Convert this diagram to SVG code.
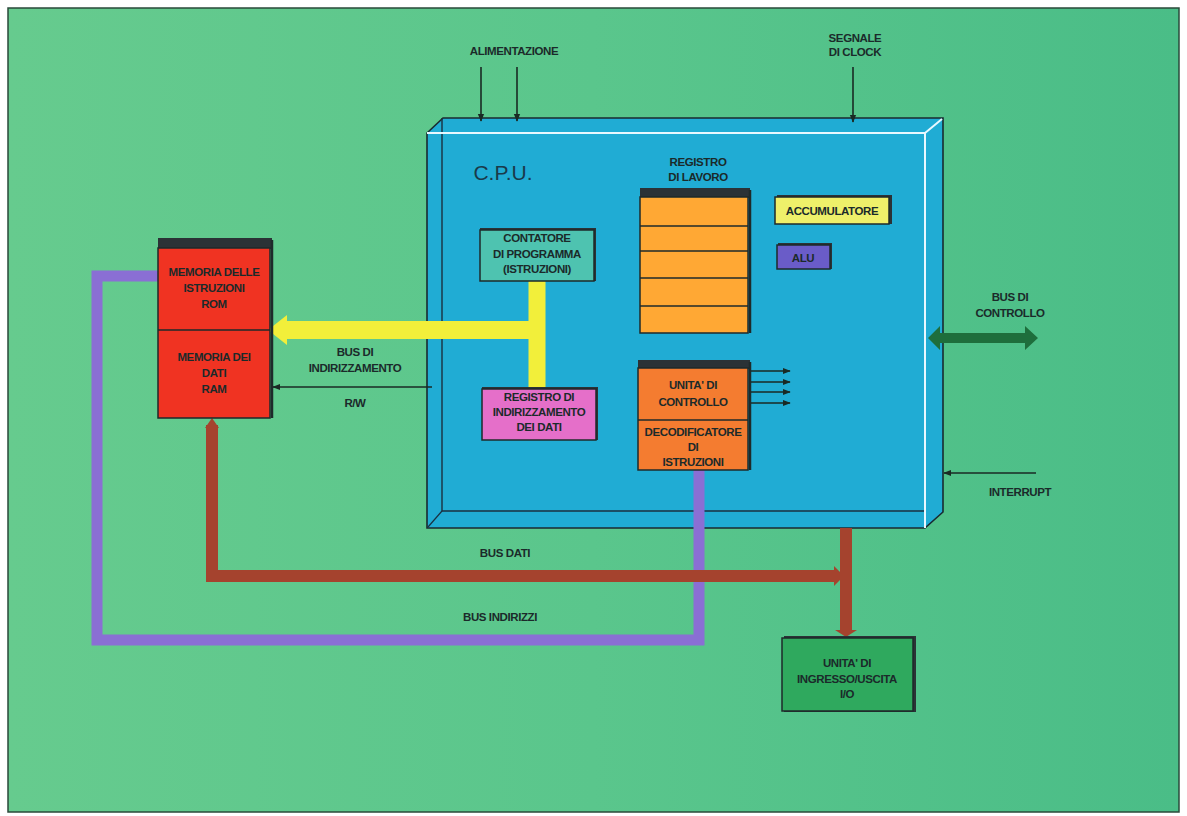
<svg xmlns="http://www.w3.org/2000/svg" width="1187" height="816" viewBox="0 0 1187 816">
<defs>
<linearGradient id="bg" x1="0" y1="0" x2="1" y2="0">
<stop offset="0" stop-color="#66cb8e"/>
<stop offset="0.5" stop-color="#5ac68c"/>
<stop offset="1" stop-color="#4abd87"/>
</linearGradient>
<marker id="ah" viewBox="0 0 10 10" refX="9" refY="5" markerWidth="8" markerHeight="8" markerUnits="userSpaceOnUse" orient="auto">
<path d="M0,1 L10,5 L0,9 z" fill="#1a2a24"/>
</marker>
<style>
.t{font-family:"Liberation Sans",Arial,sans-serif;font-weight:bold;font-size:11.5px;fill:#1b2a2a;text-anchor:middle;letter-spacing:-0.4px}
.thin{stroke:#1a2a24;stroke-width:1.6;fill:none}
.box{stroke:#1e2a2a;stroke-width:1.5}
.shadow{fill:#2b3236}
</style>
</defs>
<rect x="0" y="0" width="1187" height="816" fill="#ffffff"/>
<rect x="8" y="8" width="1171" height="804" fill="url(#bg)" stroke="#2a4a3a" stroke-width="1.5"/>

<g id="cpu">
<path d="M427,133 L443,118 L943,118 L943,512 L925,528 L427,528 Z" fill="#20acd4" stroke="#1a2a30" stroke-width="1.6"/>
<path d="M442,118 L442,511 L925,511" fill="none" stroke="#1a3040" stroke-width="1.4"/>
<line x1="442" y1="511" x2="428" y2="527" stroke="#1a3040" stroke-width="1.2"/>
<path d="M427,133 L925,133 L925,528" fill="none" stroke="#e8f8ff" stroke-width="2"/>
<line x1="925" y1="133" x2="942" y2="119" stroke="#e8f8ff" stroke-width="2"/>
<text x="503" y="180" font-family="Liberation Sans,Arial,sans-serif" font-size="21" fill="#1a3a4a" text-anchor="middle">C.P.U.</text>
</g>

<g id="connectors">
<path d="M160,276 L97,276 L97,640 L699,640 L699,470" fill="none" stroke="#8a6fd4" stroke-width="11"/>
<path d="M212,425 L212,576 L836,576" fill="none" stroke="#a5432e" stroke-width="12"/>
<path d="M205,428 L212,418 L219,428 Z" fill="#a5432e"/>
<path d="M834,566 L844,576 L834,586 Z" fill="#a5432e"/>
<line x1="846" y1="528" x2="846" y2="630" stroke="#a5432e" stroke-width="12"/>
<path d="M835,630 L846,637 L857,630 Z" fill="#a5432e"/>
<line x1="537" y1="280" x2="537" y2="388" stroke="#f2ef3a" stroke-width="17"/>
<path d="M545,321 L287,321 L287,315 L268,330 L287,345 L287,339 L545,339 Z" fill="#f2ef3a"/>
<line x1="432" y1="387" x2="273" y2="387" class="thin" marker-end="url(#ah)"/>
<line x1="481" y1="67" x2="481" y2="121" class="thin" marker-end="url(#ah)"/>
<line x1="517" y1="67" x2="517" y2="121" class="thin" marker-end="url(#ah)"/>
<line x1="853" y1="67" x2="853" y2="122" class="thin" marker-end="url(#ah)"/>
<line x1="749" y1="371" x2="790" y2="371" class="thin" marker-end="url(#ah)"/>
<line x1="749" y1="382" x2="790" y2="382" class="thin" marker-end="url(#ah)"/>
<line x1="749" y1="392" x2="790" y2="392" class="thin" marker-end="url(#ah)"/>
<line x1="749" y1="403" x2="790" y2="403" class="thin" marker-end="url(#ah)"/>
<line x1="1036" y1="473" x2="944" y2="473" class="thin" marker-end="url(#ah)"/>
<path d="M928,338 L940,326 L940,333 L1025,333 L1025,326 L1038,338 L1025,350 L1025,343 L940,343 L940,350 Z" fill="#1e6e3c"/>
</g>

<g id="registro-lavoro">
<rect x="640" y="188" width="110" height="10" class="shadow"/>
<rect x="640" y="197" width="108" height="136" fill="#ffa834" class="box"/>
<line x1="640" y1="226" x2="748" y2="226" stroke="#1e2a2a" stroke-width="1.5"/>
<line x1="640" y1="251" x2="748" y2="251" stroke="#1e2a2a" stroke-width="1.5"/>
<line x1="640" y1="278" x2="748" y2="278" stroke="#1e2a2a" stroke-width="1.5"/>
<line x1="640" y1="306" x2="748" y2="306" stroke="#1e2a2a" stroke-width="1.5"/>
<line x1="750" y1="190" x2="750" y2="333" stroke="#1e2a2a" stroke-width="2.5"/>
<text class="t" x="698" y="166">REGISTRO</text>
<text class="t" x="698" y="181">DI LAVORO</text>
</g>

<g id="accumulatore">
<rect x="777" y="195" width="115" height="29" class="shadow"/>
<rect x="775" y="197" width="114" height="27" fill="#eef06a" class="box"/>
<text class="t" x="832" y="215">ACCUMULATORE</text>
</g>

<g id="alu">
<rect x="778" y="243" width="54" height="26" class="shadow"/>
<rect x="777" y="245" width="53" height="24" fill="#6a5cc8" class="box"/>
<text class="t" x="803" y="262">ALU</text>
</g>

<g id="contatore">
<rect x="480" y="228" width="116" height="53" class="shadow"/>
<rect x="480" y="230" width="114" height="51" fill="#4ec3b0" class="box"/>
<text class="t" x="537" y="242">CONTATORE</text>
<text class="t" x="537" y="258">DI PROGRAMMA</text>
<text class="t" x="537" y="273">(ISTRUZIONI)</text>
</g>

<g id="registro-indirizzamento">
<rect x="482" y="387" width="116" height="53" class="shadow"/>
<rect x="482" y="389" width="114" height="51" fill="#e56fc9" class="box"/>
<text class="t" x="539" y="401">REGISTRO DI</text>
<text class="t" x="539" y="416">INDIRIZZAMENTO</text>
<text class="t" x="539" y="431">DEI DATI</text>
</g>

<g id="unita-controllo">
<rect x="638" y="360" width="112" height="9" class="shadow"/>
<rect x="638" y="368" width="110" height="102" fill="#f47c30" class="box"/>
<line x1="638" y1="420" x2="748" y2="420" stroke="#1e2a2a" stroke-width="1.5"/>
<line x1="750" y1="362" x2="750" y2="470" stroke="#1e2a2a" stroke-width="2.5"/>
<text class="t" x="693" y="389">UNITA' DI</text>
<text class="t" x="693" y="406">CONTROLLO</text>
<text class="t" x="693" y="436">DECODIFICATORE</text>
<text class="t" x="693" y="451">DI</text>
<text class="t" x="693" y="466">ISTRUZIONI</text>
</g>

<g id="memoria">
<rect x="158" y="238" width="114" height="11" class="shadow"/>
<rect x="158" y="248" width="112" height="170" fill="#f03322" class="box"/>
<line x1="158" y1="330" x2="270" y2="330" stroke="#1e2a2a" stroke-width="1.5"/>
<line x1="272" y1="240" x2="272" y2="418" stroke="#1e2a2a" stroke-width="2.5"/>
<text class="t" x="214" y="276">MEMORIA DELLE</text>
<text class="t" x="214" y="292">ISTRUZIONI</text>
<text class="t" x="214" y="308">ROM</text>
<text class="t" x="214" y="361">MEMORIA DEI</text>
<text class="t" x="214" y="377">DATI</text>
<text class="t" x="214" y="393">RAM</text>
</g>

<g id="io">
<rect x="784" y="636" width="132" height="76" class="shadow"/>
<rect x="782" y="638" width="131" height="73" fill="#2fa95e" class="box"/>
<text class="t" x="847" y="667">UNITA' DI</text>
<text class="t" x="847" y="683">INGRESSO/USCITA</text>
<text class="t" x="847" y="698">I/O</text>
</g>

<g id="labels">
<text class="t" x="514" y="55">ALIMENTAZIONE</text>
<text class="t" x="855" y="42">SEGNALE</text>
<text class="t" x="855" y="56">DI CLOCK</text>
<text class="t" x="355" y="356">BUS DI</text>
<text class="t" x="355" y="372">INDIRIZZAMENTO</text>
<text class="t" x="355" y="407">R/W</text>
<text class="t" x="1010" y="301">BUS DI</text>
<text class="t" x="1010" y="317">CONTROLLO</text>
<text class="t" x="1020" y="496">INTERRUPT</text>
<text class="t" x="505" y="557">BUS DATI</text>
<text class="t" x="500" y="621">BUS INDIRIZZI</text>
</g>
</svg>
